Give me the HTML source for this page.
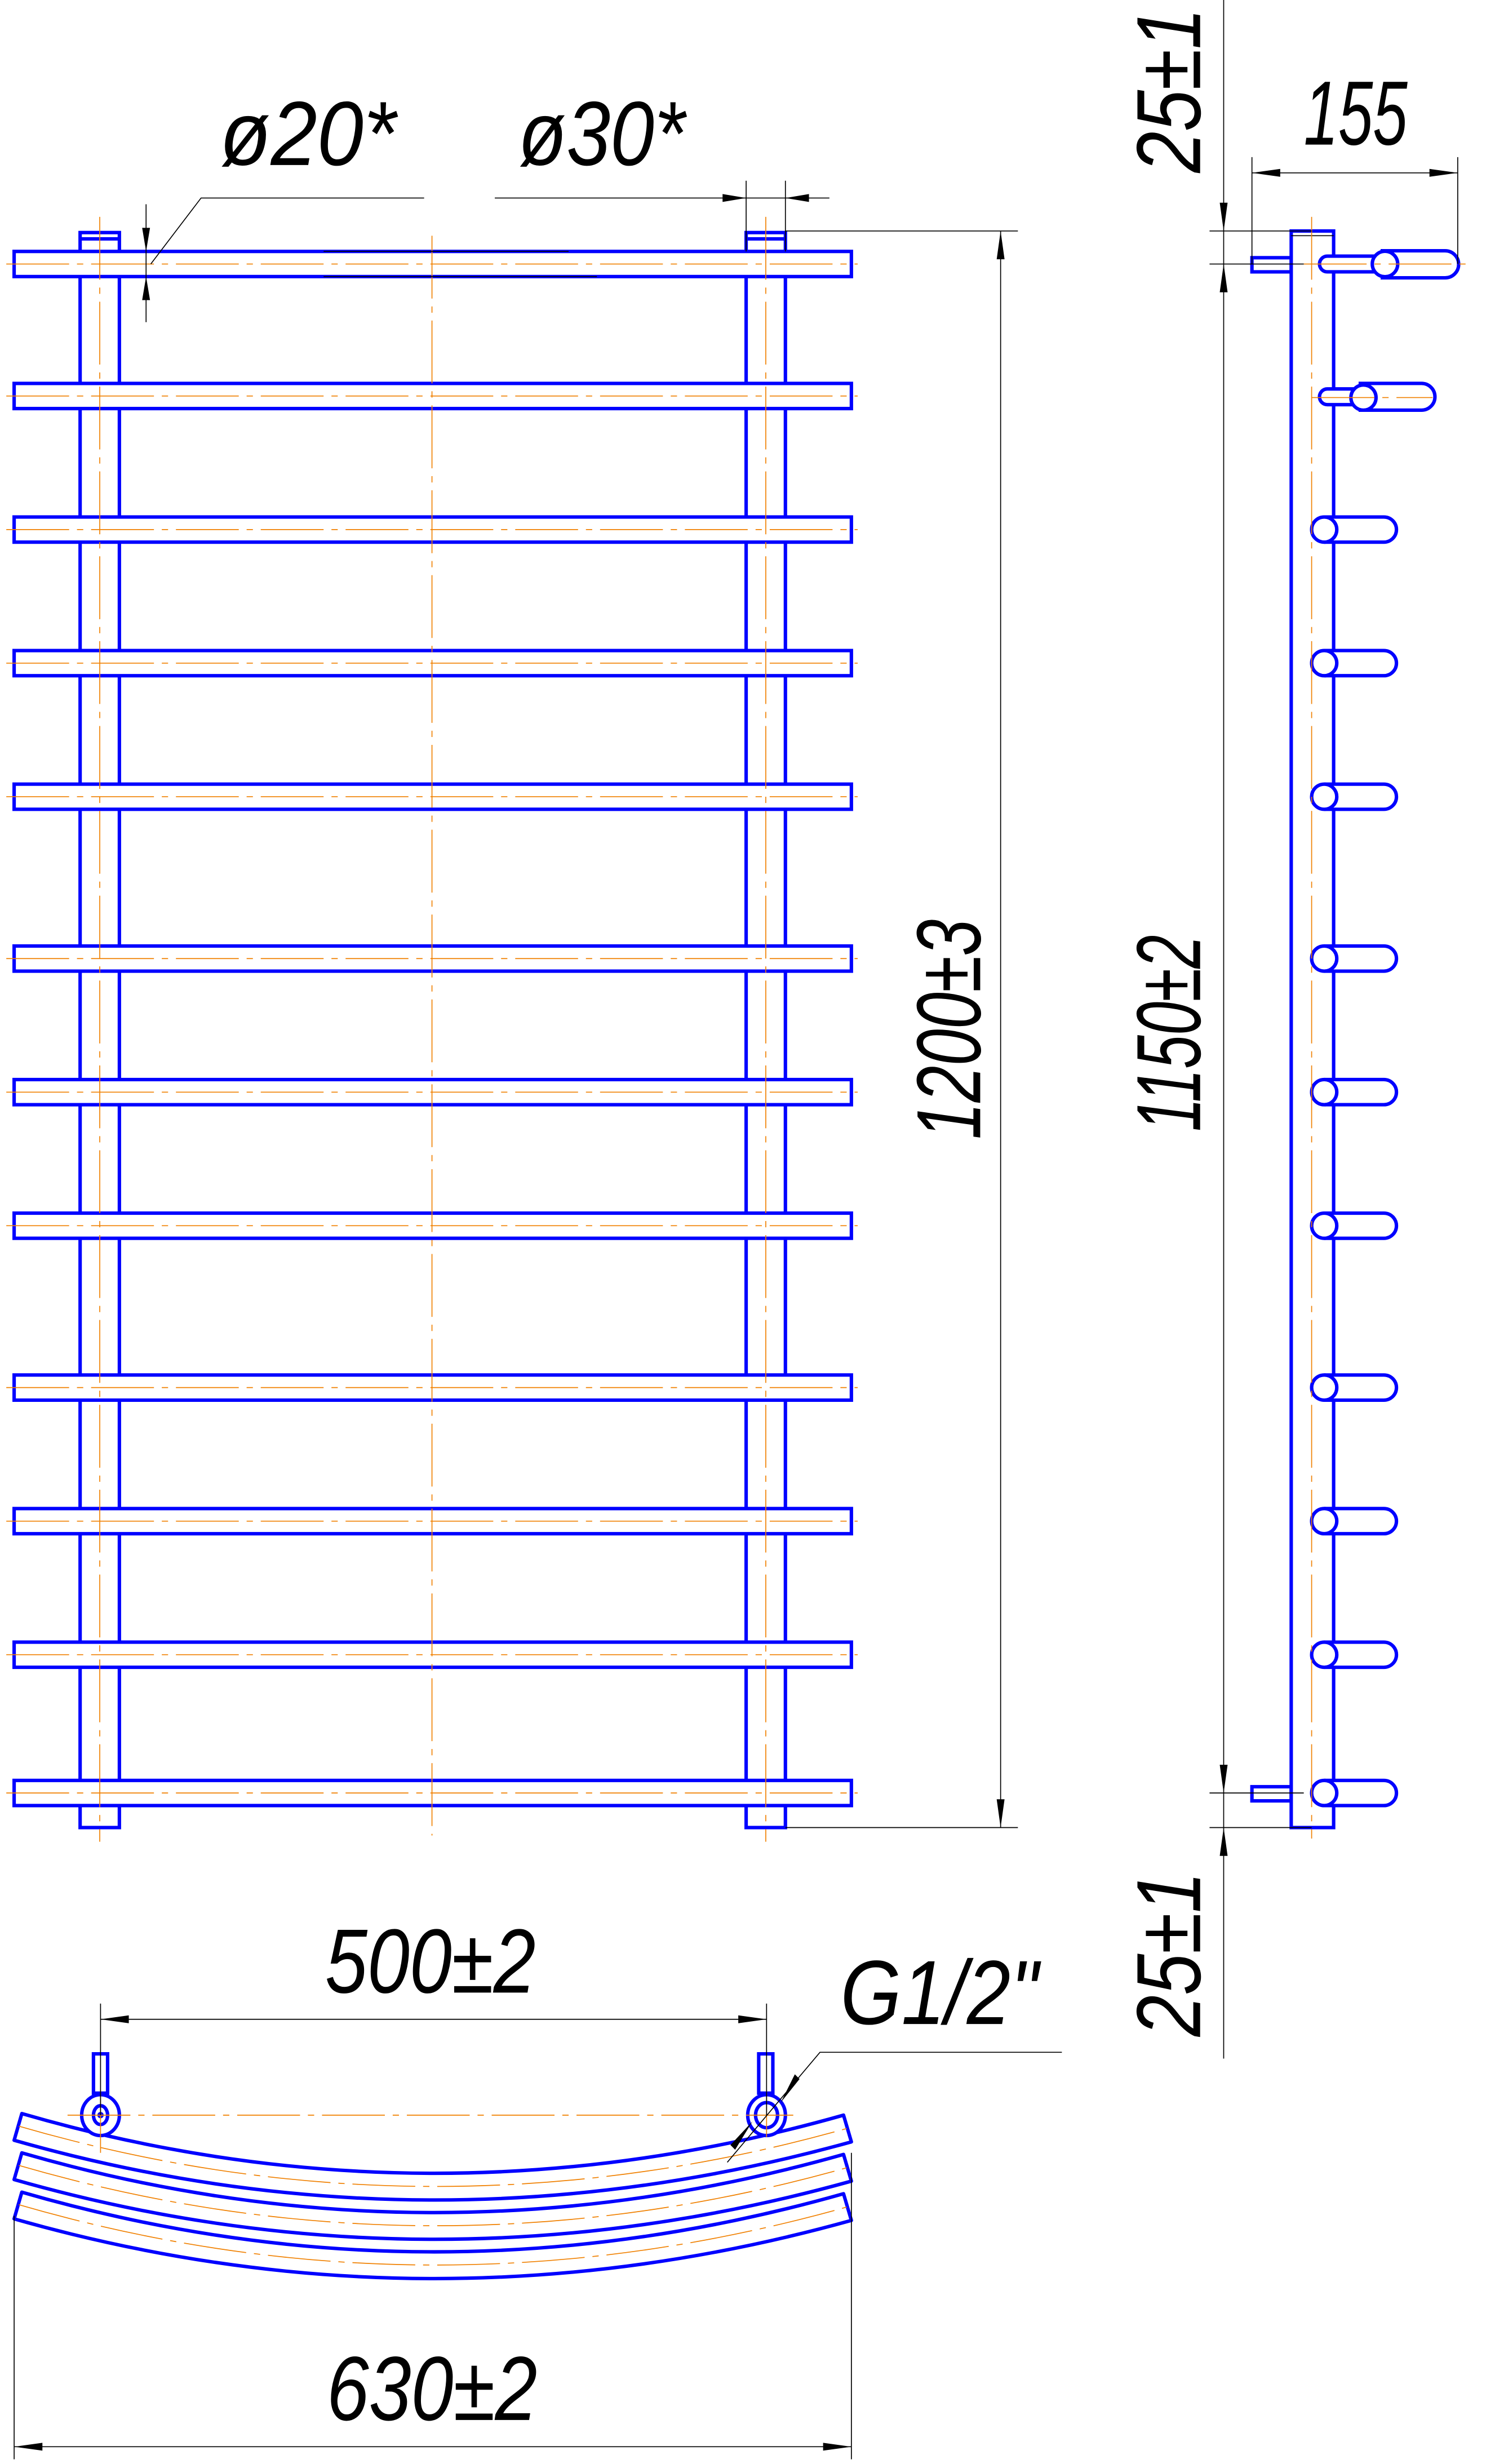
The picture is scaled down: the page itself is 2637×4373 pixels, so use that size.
<!DOCTYPE html>
<html><head><meta charset="utf-8"><style>html,body{margin:0;padding:0;background:#fff}svg{display:block}</style></head>
<body>
<svg xmlns="http://www.w3.org/2000/svg" width="2637" height="4373" viewBox="0 0 946 1568" preserveAspectRatio="none">
<defs>
<g id="bar"><rect x="9" y="0" width="533" height="16" fill="#fff" stroke="#00f" stroke-width="2.2"/></g>
<g id="hk"><path d="M843,-8 H881 A8,8 0 0 1 881,8 H843" fill="#fff" stroke="#00f" stroke-width="2.2"/><circle cx="843" cy="0" r="8" fill="#fff" stroke="#00f" stroke-width="2.2"/></g>
<g id="br">
<path d="M13.9,1345 Q274,1420.5 537,1346 L542,1363 Q274,1437.5 9,1362 Z" fill="#fff" stroke="#00f" stroke-width="2.2" stroke-linejoin="round"/>
<path d="M12,1353 Q274,1429 539,1354.5" fill="none" stroke="#f08000" stroke-width="0.6" stroke-dasharray="40,5,4,5"/>
</g>
</defs>
<rect width="946" height="1568" fill="#fff"/>

<!-- FRONT VIEW -->
<g fill="#fff" stroke="#00f" stroke-width="2.2">
<rect x="51" y="148" width="25" height="1015"/>
<rect x="475" y="148" width="25" height="1015"/>
<line x1="51" y1="152" x2="76" y2="152"/>
<line x1="475" y1="152" x2="500" y2="152"/>
</g>
<use href="#bar" y="160"/><use href="#bar" y="244"/><use href="#bar" y="329"/><use href="#bar" y="414"/>
<use href="#bar" y="499"/><use href="#bar" y="602"/><use href="#bar" y="687"/><use href="#bar" y="772"/>
<use href="#bar" y="875"/><use href="#bar" y="960"/><use href="#bar" y="1045"/><use href="#bar" y="1133"/>
<g stroke="#f08000" stroke-width="0.6" stroke-dasharray="40,5,4,5" fill="none">
<path d="M4,168H546M4,252H546M4,337H546M4,422H546M4,507H546M4,610H546M4,695H546M4,780H546M4,883H546M4,968H546M4,1053H546M4,1141H546"/>
<path d="M63.5,138V1172M487.5,138V1172M275,150V1168"/>
</g>

<!-- front dims -->
<g stroke="#000" stroke-width="0.6" fill="none">
<path d="M500,147H648M500,1163H648M637,147V1163"/>
<path d="M206,160H362M206,176H380"/>
<path d="M93,130V205"/>
<path d="M96,168L128,126H270"/>
<path d="M315,126H528M475,115V160M500,115V160"/>
</g>
<g fill="#000">
<polygon points="637,147 634.5,165 639.5,165"/><polygon points="637,1163 634.5,1145 639.5,1145"/>
<polygon points="93,160 90.5,145 95.5,145"/><polygon points="93,176 90.5,191 95.5,191"/>
<polygon points="475,126 460,123.5 460,128.5"/><polygon points="500,126 515,123.5 515,128.5"/>
</g>

<!-- SIDE VIEW -->
<g fill="#fff" stroke="#00f" stroke-width="2.2">
<rect x="797" y="164" width="25" height="9"/>
<rect x="797" y="1137" width="25" height="9"/>
<rect x="822" y="147" width="27" height="1016"/>
<line x1="822" y1="150" x2="849" y2="150" stroke="#000" stroke-width="0.6"/>
<path d="M845,163 H885 V173 H845 A5,5 0 0 1 845,163Z"/>
<path d="M880,159.6 H920 A8.6,8.6 0 0 1 920,176.8 H880 Z"/>
<circle cx="881.7" cy="168" r="8.1"/>
<path d="M845,247.5 H870 V257.5 H845 A5,5 0 0 1 845,247.5Z"/>
<path d="M866,244 H905 A8.5,8.5 0 0 1 905,261 H866 Z"/>
<circle cx="868" cy="253" r="8"/>
</g>
<use href="#hk" y="337"/><use href="#hk" y="422"/><use href="#hk" y="507"/><use href="#hk" y="610"/>
<use href="#hk" y="695"/><use href="#hk" y="780"/><use href="#hk" y="883"/><use href="#hk" y="968"/>
<use href="#hk" y="1053"/><use href="#hk" y="1141"/>
<g stroke="#f08000" stroke-width="0.6" stroke-dasharray="40,5,4,5" fill="none">
<path d="M835,138V1170M830,168H935M835,253H912"/>
</g>
<g stroke="#000" stroke-width="0.6" fill="none">
<path d="M779,0V1310"/>
<path d="M770,147H835M770,168H830M770,1141H830M770,1163H835"/>
<path d="M797,100V168M928,100V168M797,110H928"/>
</g>
<g fill="#000">
<polygon points="779,147 776.5,129 781.5,129"/><polygon points="779,168 776.5,186 781.5,186"/>
<polygon points="779,1141 776.5,1123 781.5,1123"/><polygon points="779,1163 776.5,1181 781.5,1181"/>
<polygon points="797,110 815,107.5 815,112.5"/><polygon points="928,110 910,107.5 910,112.5"/>
</g>

<!-- BOTTOM VIEW -->
<use href="#br"/><use href="#br" y="25"/><use href="#br" y="50"/>
<g fill="#fff" stroke="#00f" stroke-width="2.2">
<rect x="59.5" y="1307" width="9" height="25"/>
<rect x="483" y="1307" width="9" height="25"/>
<ellipse cx="64" cy="1346" rx="12" ry="13"/>
<ellipse cx="64" cy="1346" rx="4.5" ry="6"/>
<ellipse cx="488" cy="1346" rx="12" ry="13"/>
<ellipse cx="488" cy="1346" rx="7" ry="8"/>
</g>
<circle cx="64" cy="1346" r="2" fill="#00f"/>
<g stroke="#f08000" stroke-width="0.6" stroke-dasharray="40,5,4,5" fill="none">
<path d="M43,1346H505M64,1330V1370M488,1330V1360"/>
</g>
<g stroke="#000" stroke-width="0.6" fill="none">
<path d="M64,1275V1346M488,1275V1346M64,1285H488"/>
<path d="M676,1306H522L463,1376"/>
<path d="M9,1410V1565M542,1370V1565M9,1557H542"/>
</g>
<g fill="#000">
<polygon points="64,1285 82,1282.5 82,1287.5"/><polygon points="488,1285 470,1282.5 470,1287.5"/>
<polygon points="497,1338 506,1320 509,1323"/><polygon points="479,1350 468,1368 465,1365"/>
<polygon points="9,1557 27,1554.5 27,1559.5"/><polygon points="542,1557 524,1554.5 524,1559.5"/>
</g>

<!-- TEXT -->
<g font-family="'Liberation Sans', sans-serif" font-style="italic" font-size="58" fill="#000">
<text x="140" y="105" textLength="112" lengthAdjust="spacingAndGlyphs">ø20*</text>
<text x="330" y="105" textLength="106" lengthAdjust="spacingAndGlyphs">ø30*</text>
<text x="830" y="92" textLength="66" lengthAdjust="spacingAndGlyphs">155</text>
<text x="207" y="1268" textLength="134" lengthAdjust="spacingAndGlyphs">500±2</text>
<text x="535" y="1288" textLength="126" lengthAdjust="spacingAndGlyphs">G1/2"</text>
<text x="208" y="1540" textLength="134" lengthAdjust="spacingAndGlyphs">630±2</text>
<text transform="translate(624,725) rotate(-90)" textLength="140" lengthAdjust="spacingAndGlyphs">1200±3</text>
<text transform="translate(764,720) rotate(-90)" textLength="125" lengthAdjust="spacingAndGlyphs">1150±2</text>
<text transform="translate(764,110) rotate(-90)" textLength="105" lengthAdjust="spacingAndGlyphs">25±1</text>
<text transform="translate(764,1296) rotate(-90)" textLength="105" lengthAdjust="spacingAndGlyphs">25±1</text>
</g>
</svg>
</body></html>
